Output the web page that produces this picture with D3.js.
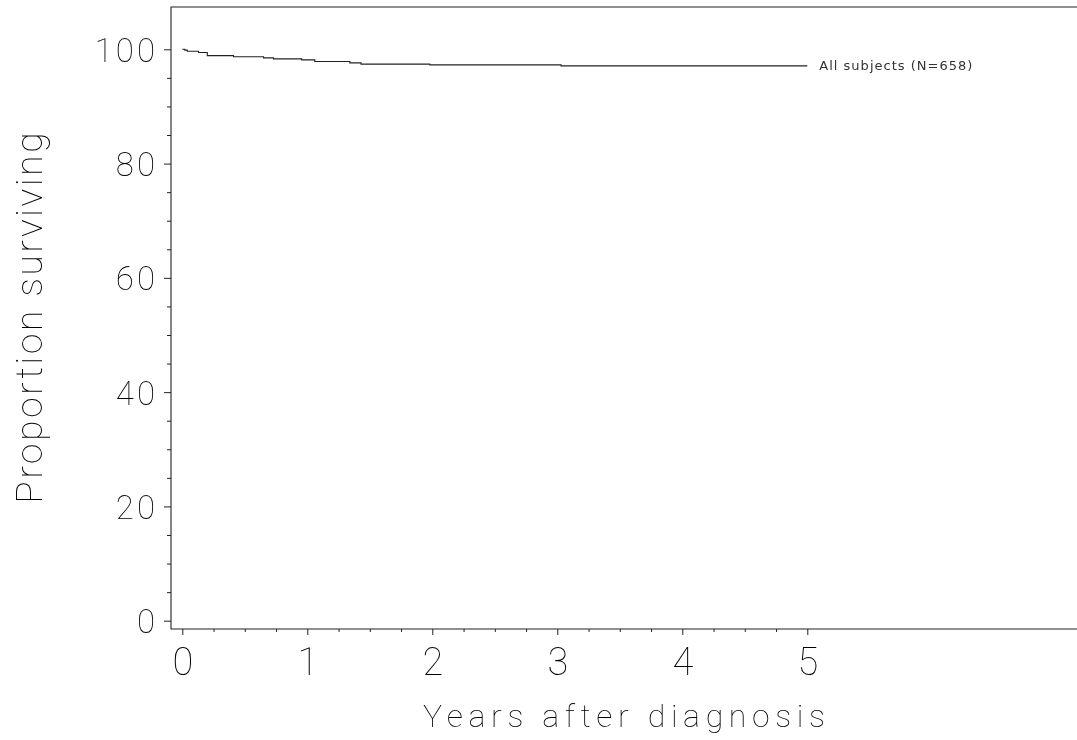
<!DOCTYPE html>
<html>
<head>
<meta charset="utf-8">
<script src="https://cdn.jsdelivr.net/npm/d3@7"></script>
<style>
    body { margin: 0; background: #fff; }
    svg { display: block; filter: grayscale(1); }
    .thin { font-family: "DejaVu Sans ExtraLight", "Roboto Thin", "Lato Hairline", "Inter Thin", "Lato", sans-serif; font-weight: 100; fill: #000; }
</style>
</head>
<body>
<div id="chart"></div>
<script>
// survival curve (years, percent surviving)
const years = [0, 0.02, 0.04, 0.13, 0.20, 0.41, 0.65, 0.73, 0.955, 1.06, 1.34, 1.43, 1.98, 3.03, 5.0];
const surviving = [100, 99.85, 99.65, 99.45, 98.9, 98.7, 98.5, 98.33, 98.15, 97.87, 97.62, 97.4, 97.27, 97.1, 97.1];
const curveLabel = "All subjects (N=658)";

const xMajor = [0, 1, 2, 3, 4, 5];
const yMajor = [0, 20, 40, 60, 80, 100];
const xTitle = "Years after diagnosis";
const yTitle = "Proportion surviving";

const width = 1077,
    height = 740,
    frame = { left: 171, top: 7, right: 1077, bottom: 629 };

const svg = d3.select("#chart")
    .append("svg")
    .attr("width", width)
    .attr("height", height);

let x = d3.scaleLinear().domain([0, 5]).range([182.3, 807.3]);
let y = d3.scaleLinear().domain([0, 100]).range([620.7, 49.3]);

// minor ticks: quarter years, every 5 percent
let xMinor = d3.range(0, 5.01, 0.25).filter(v => !xMajor.includes(v));
let yMinor = d3.range(0, 100.1, 5).filter(v => !yMajor.includes(v));

// frame: left, top and bottom lines
svg.append("path")
    .attr("d", "M" + frame.right + "," + frame.top + "H" + frame.left + "V" + frame.bottom + "H" + frame.right)
    .attr("fill", "none")
    .attr("stroke", "#222")
    .attr("stroke-width", 1.1);

// y axis ticks
let yAxis = svg.append("g")
    .attr("transform", "translate(" + frame.left + ",0)")
    .call(d3.axisLeft(y).tickValues(yMajor).tickSize(7).tickFormat(d3.format("d")));
yAxis.select(".domain").remove();
yAxis.selectAll("line").attr("stroke", "#222");
yAxis.selectAll("text")
    .attr("class", "thin")
    .attr("x", -13)
    .attr("dy", "0.36em")
    .style("font-size", "33px")
    .style("letter-spacing", "3px")
    .attr("fill", "#000");
svg.append("g")
    .attr("transform", "translate(" + frame.left + ",0)")
    .call(d3.axisLeft(y).tickValues(yMinor).tickSize(4).tickFormat(""))
    .call(g => g.select(".domain").remove())
    .selectAll("line").attr("stroke", "#222");

// x axis ticks
let xAxis = svg.append("g")
    .attr("transform", "translate(0," + frame.bottom + ")")
    .call(d3.axisBottom(x).tickValues(xMajor).tickSize(6).tickFormat(d3.format("d")));
xAxis.select(".domain").remove();
xAxis.selectAll("line").attr("stroke", "#222");
xAxis.selectAll("text")
    .attr("class", "thin")
    .attr("y", 46)
    .attr("dy", 0)
    .style("font-size", "38px")
    .attr("fill", "#000");
svg.append("g")
    .attr("transform", "translate(0," + frame.bottom + ")")
    .call(d3.axisBottom(x).tickValues(xMinor).tickSize(3).tickFormat(""))
    .call(g => g.select(".domain").remove())
    .selectAll("line").attr("stroke", "#222");

// axis titles
svg.append("text")
    .attr("class", "thin")
    .attr("x", (frame.left + frame.right) / 2)
    .attr("y", 727)
    .attr("text-anchor", "middle")
    .attr("textLength", 402)
    .attr("lengthAdjust", "spacing")
    .style("font-size", "32px")
    .text(xTitle);

svg.append("text")
    .attr("class", "thin")
    .attr("transform", "translate(42," + (frame.top + frame.bottom) / 2 + ") rotate(-90)")
    .attr("text-anchor", "middle")
    .attr("textLength", 371)
    .attr("lengthAdjust", "spacing")
    .style("font-size", "37px")
    .text(yTitle);

// survival curve
let points = years.map(function (d, i) {
    return [d, surviving[i]];
});
let line = d3.line()
    .x(d => x(d[0]))
    .y(d => y(d[1]))
    .curve(d3.curveStepAfter);

svg.append("path")
    .datum(points)
    .attr("d", line)
    .attr("fill", "none")
    .attr("stroke", "#222")
    .attr("stroke-width", 1.1);

let last = points[points.length - 1];
svg.append("text")
    .attr("x", x(last[0]) + 12)
    .attr("y", y(last[1]) + 4)
    .attr("textLength", 153)
    .attr("lengthAdjust", "spacing")
    .style("font-family", "DejaVu Sans, sans-serif")
    .style("font-size", "13px")
    .attr("fill", "#333")
    .text(curveLabel);
</script>
</body>
</html>
